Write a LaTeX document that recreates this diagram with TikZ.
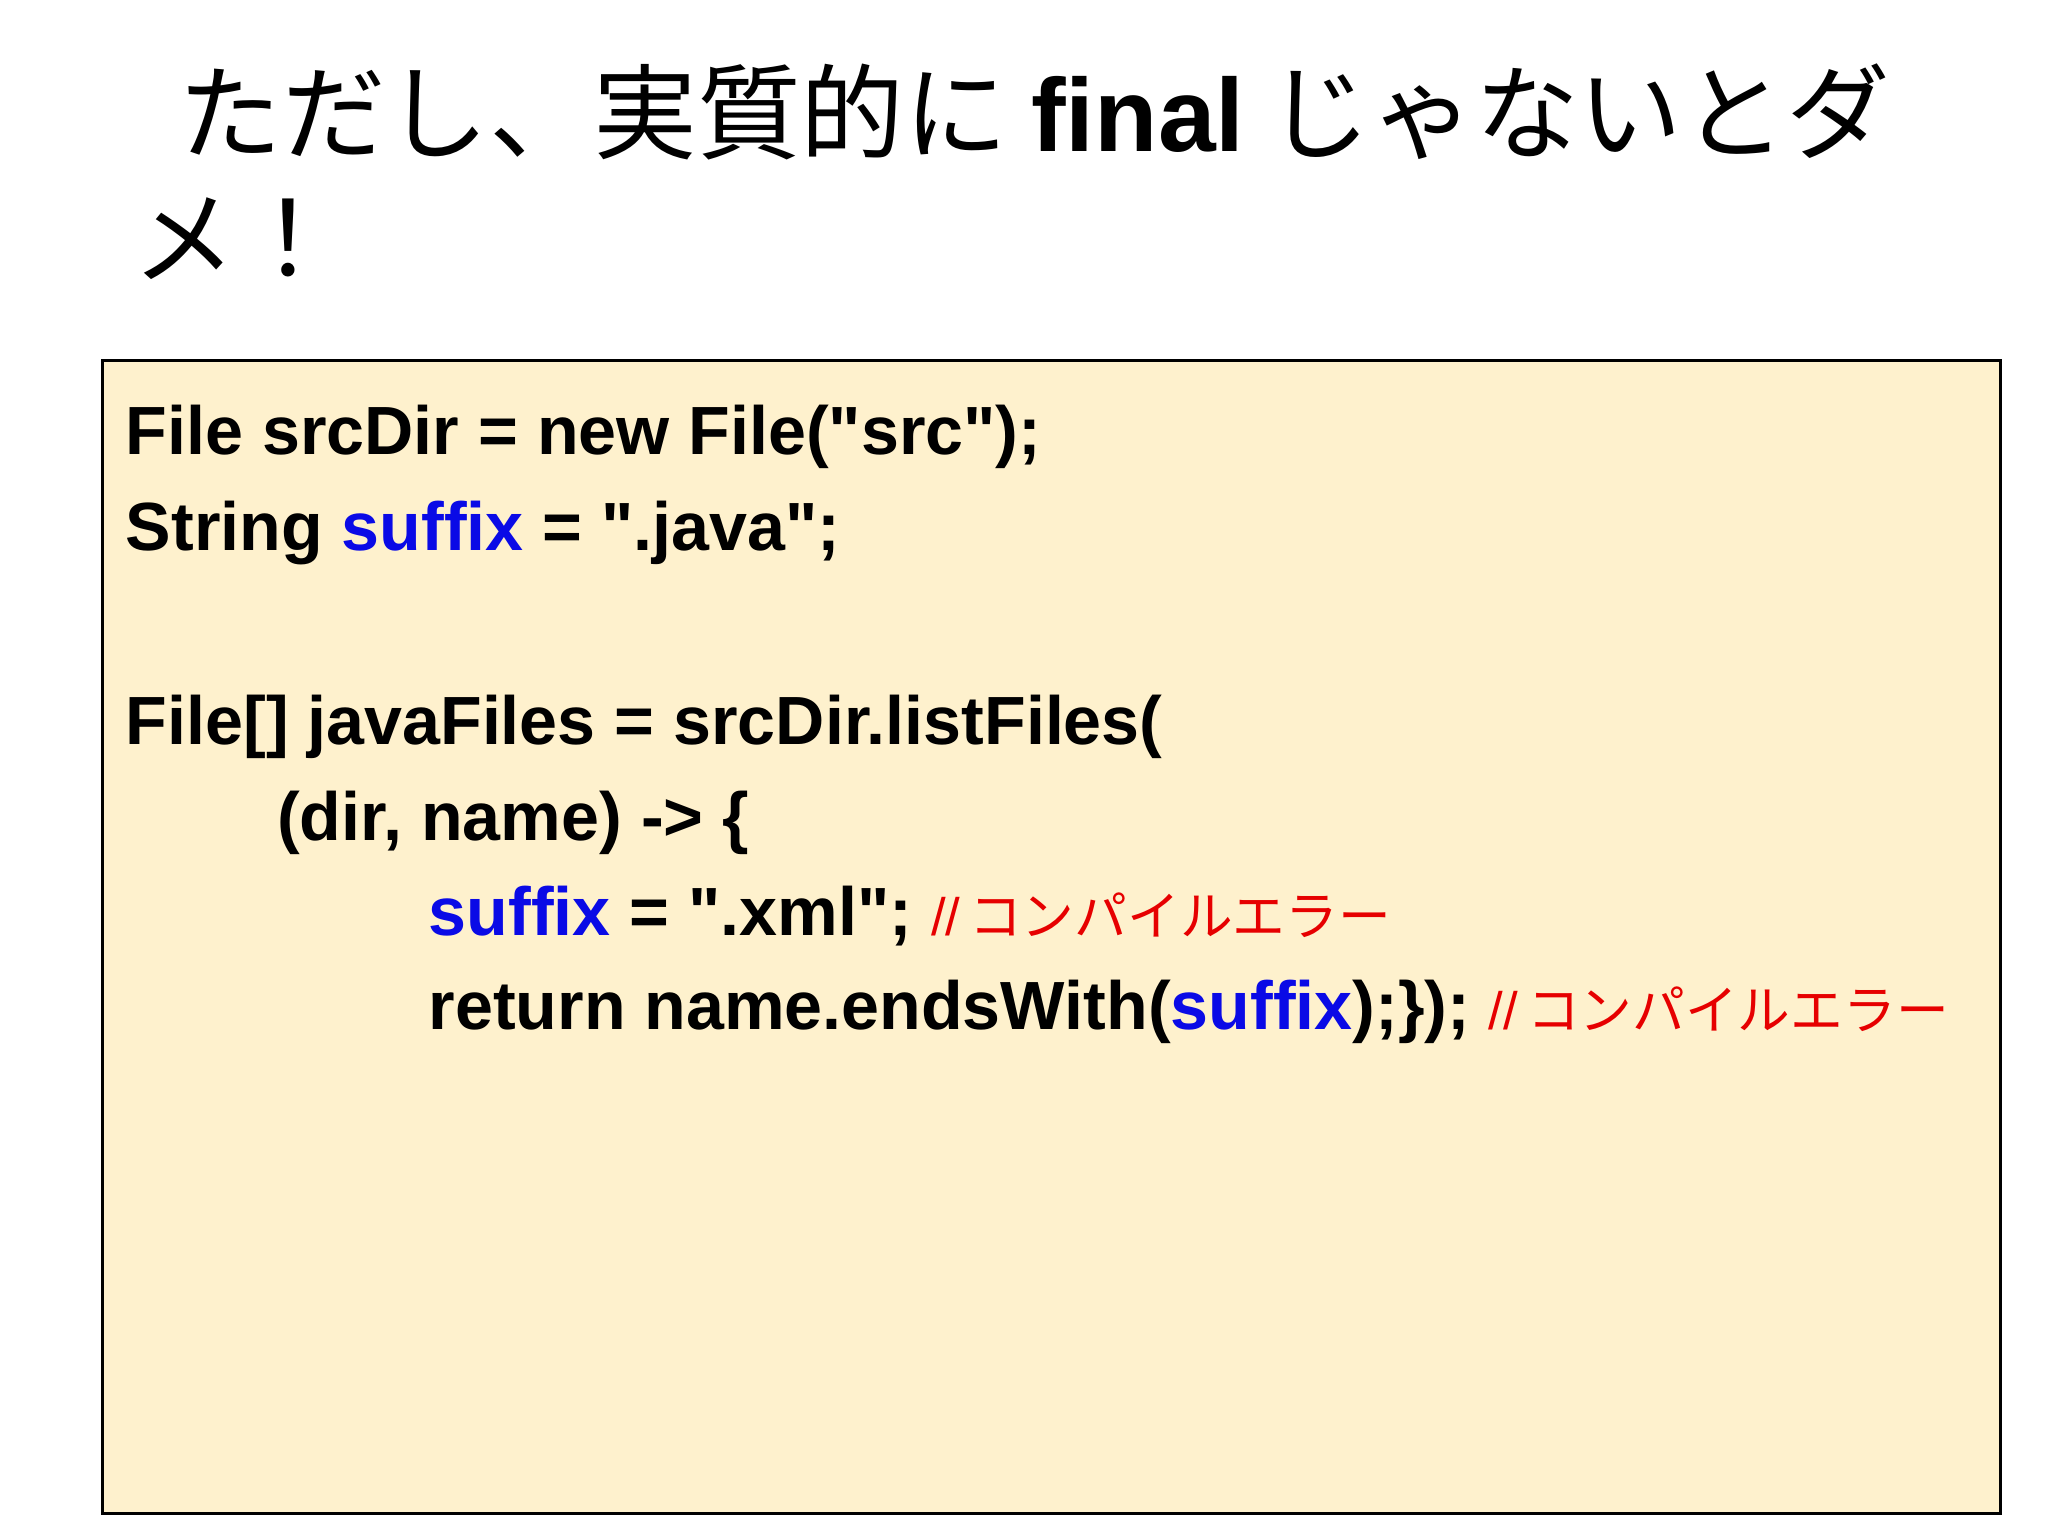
\documentclass[tikz,border=0pt]{standalone}
\usepackage{fontspec}
\setmainfont{Liberation Sans}
\newfontfamily\codefont{Liberation Sans}
\newfontfamily\jp{Noto Sans CJK JP}
\definecolor{cream}{HTML}{FEF1CD}
\definecolor{kw}{HTML}{0A0AE6}
\definecolor{err}{HTML}{E60000}
\newcommand{\q}{"}
\begin{document}
\begin{tikzpicture}[x=0.01317cm,y=-0.01317cm,
  code/.style={anchor=base west,inner sep=0pt,font=\codefont\fontsize{19.4}{24}\selectfont\bfseries},
  ttl/.style={anchor=base west,inner sep=0pt,font=\fontsize{29.5}{34}\selectfont\jp}]
\useasboundingbox (0,0) rectangle (1555,1166);
\draw[fill=cream,line width=0.8pt] (78,274) rectangle (1519,1149);
\node[ttl] (t1) at (135,115) {ただし、実質的に {\fontspec{Liberation Sans}\bfseries final} じゃないとダ};
\node[ttl] (t2) at (100,210) {メ！};
\newcommand{\cm}{{\color{err}\mdseries\fontsize{15}{18}\selectfont //\,{\jp コンパイルエラー}}}
\node[code] (l1) at (95,345) {File srcDir = new File(\q src\q);};
\node[code] (l2) at (95,418) {String {\color{kw}suffix} = \q.java\q;};
\node[code] (l3) at (95,565) {File[] javaFiles = srcDir.listFiles(};
\node[code] (l4) at (210,638) {(dir, name) -> \{};
\node[code] (l5) at (325,710) {{\color{kw}suffix} = \q.xml\q; \cm};
\node[code] (l6) at (325,782) {return name.endsWith({\color{kw}suffix});\}); \cm};
\end{tikzpicture}
\end{document}
